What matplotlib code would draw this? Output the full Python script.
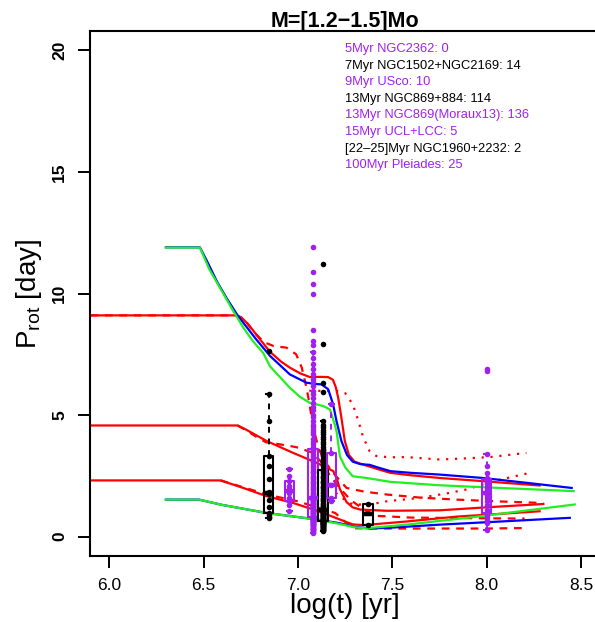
import numpy as np
import matplotlib
matplotlib.use('Agg')
import matplotlib.pyplot as plt

plt.rcParams['font.family'] = ['Liberation Sans', 'DejaVu Sans']
plt.rcParams['mathtext.fontset'] = 'custom'
plt.rcParams['mathtext.rm'] = 'Liberation Sans'
plt.rcParams['mathtext.it'] = 'Liberation Sans:italic'

RED, BLUE, GREEN = '#FF0000', '#0000FF', '#22EE22'
PURPLE = '#A020F0'

# ---- model tracks: log(t) and Prot [day] ----
red1_t = [5.9, 6.675, 6.70, 6.74, 6.80, 6.852, 6.91, 6.957, 7.01, 7.063, 7.12, 7.16, 7.185, 7.20, 7.213,
          7.23, 7.248, 7.27, 7.30, 7.35, 7.42, 7.49, 7.6, 7.75, 7.98, 8.28]
red1_p = [9.1, 9.1, 9.02, 8.7, 8.1, 7.6, 7.2, 6.95, 6.72, 6.56, 6.57, 6.56, 6.45, 6.15, 5.71,
          4.89, 3.93, 3.35, 3.08, 2.95, 2.78, 2.62, 2.52, 2.41, 2.28, 2.1]
red2_t = [5.9, 6.68, 6.72, 6.834, 6.975, 7.10, 7.16, 7.187, 7.205, 7.222, 7.257, 7.29, 7.33, 7.47, 7.75, 8.015, 8.30]
red2_p = [4.57, 4.57, 4.42, 3.93, 3.44, 3.03, 2.8, 2.69, 2.4, 1.95, 1.42, 1.2, 1.11, 1.06, 1.08, 1.21, 1.34]
red3_t = [5.9, 6.59, 6.71, 6.834, 6.975, 7.117, 7.222, 7.29, 7.35, 7.47, 7.575, 7.84, 8.28]
red3_p = [2.31, 2.31, 2.0, 1.66, 1.38, 1.02, 0.7, 0.5, 0.47, 0.55, 0.62, 0.82, 1.04]

dash1_t = [5.9, 6.675, 6.72, 6.76, 6.82, 6.87, 6.94, 6.99, 7.02, 7.045, 7.06, 7.08, 7.11, 7.15, 7.2,
           7.257, 7.35, 7.47, 7.65, 7.84, 8.05, 8.30]
dash1_p = [9.1, 9.1, 8.9, 8.46, 8.0, 7.84, 7.77, 7.5, 6.95, 6.12, 5.5, 4.5, 3.6, 3.0, 2.5,
           2.0, 1.85, 1.73, 1.6, 1.52, 1.45, 1.38]
dash2_t = [6.68, 6.73, 6.78, 6.83, 6.9, 6.99, 7.07, 7.12, 7.17, 7.22, 7.28, 7.35, 7.42, 7.6, 8.0, 8.2]
dash2_p = [4.57, 4.35, 4.1, 3.88, 3.8, 3.68, 3.47, 3.1, 2.5, 2.0, 1.5, 1.1, 0.85, 0.78, 0.75, 0.74]
dash3_t = [6.59, 6.7, 6.85, 7.0, 7.1, 7.197, 7.25, 7.3, 7.5, 8.0, 8.2]
dash3_p = [2.31, 2.05, 1.7, 1.45, 1.2, 0.97, 0.6, 0.34, 0.33, 0.33, 0.35]

dot1_t = [7.06, 7.15, 7.21, 7.25, 7.29, 7.31, 7.345, 7.38, 7.416, 7.49, 7.575, 7.75, 7.9, 8.015, 8.21]
dot1_p = [6.0, 5.99, 5.99, 5.9, 5.44, 5.0, 4.1, 3.5, 3.31, 3.26, 3.27, 3.17, 3.22, 3.27, 3.44]
dot2_t = [7.2, 7.25, 7.29, 7.38, 7.47, 7.645, 7.806, 7.894, 8.035, 8.228]
dot2_p = [1.8, 1.5, 1.32, 1.32, 1.45, 1.59, 1.80, 1.94, 2.28, 2.62]

blue1_t = [6.3, 6.48, 6.52, 6.57, 6.62, 6.68, 6.73, 6.78, 6.852, 6.957, 7.045, 7.09, 7.125, 7.16, 7.186,
           7.204, 7.23, 7.26, 7.29, 7.33, 7.38, 7.42, 7.49, 7.6, 7.75, 7.98, 8.2, 8.45]
blue1_p = [11.9, 11.9, 11.3, 10.5, 9.83, 9.1, 8.6, 8.1, 7.43, 6.67, 6.33, 6.28, 6.26, 6.06, 5.44,
           4.75, 3.93, 3.35, 3.08, 2.98, 2.95, 2.85, 2.69, 2.62, 2.55, 2.41, 2.22, 2.0]
blue2_t = [6.3, 6.475, 6.6, 6.834, 7.10, 7.22, 7.3, 7.38, 7.5, 7.75, 8.1, 8.44]
blue2_p = [1.52, 1.52, 1.3, 0.97, 0.70, 0.55, 0.4, 0.33, 0.37, 0.49, 0.63, 0.77]

green1_t = [6.3, 6.48, 6.53, 6.586, 6.657, 6.71, 6.76, 6.816, 6.852, 6.957, 7.01, 7.063, 7.134, 7.169,
            7.195, 7.205, 7.222, 7.25, 7.29, 7.363, 7.49, 7.75, 7.98, 8.46]
green1_p = [11.89, 11.89, 11.0, 10.24, 9.28, 8.6, 8.05, 7.55, 7.0, 6.12, 5.75, 5.5, 5.37, 5.23,
            4.61, 4.3, 3.3, 2.85, 2.48, 2.41, 2.25, 2.11, 2.03, 1.87]
green2_t = [6.3, 6.475, 6.6, 6.834, 7.10, 7.22, 7.3, 7.36, 7.575, 7.93, 8.466]
green2_p = [1.52, 1.52, 1.3, 0.97, 0.70, 0.52, 0.38, 0.34, 0.49, 0.80, 1.32]

# ---- observed clusters ----
ngc1502_p = [0.77, 0.8, 0.9, 0.97, 1.2, 1.5, 1.75, 1.85, 2.35, 2.9, 3.31, 4.75, 5.85, 7.63]
usco_p = [1.04, 1.3, 1.45, 1.6, 1.8, 1.95, 2.1, 2.28, 2.5, 2.8]
ngc869_p = [0.22, 0.25, 0.28, 0.3, 0.32, 0.34, 0.36, 0.38, 0.4, 0.42, 0.43, 0.45, 0.46, 0.48, 0.5, 0.51,
            0.52, 0.53, 0.55, 0.56, 0.57, 0.58, 0.59, 0.6, 0.61, 0.62, 0.63, 0.64,
            0.65, 0.66, 0.68, 0.7, 0.71, 0.72, 0.74, 0.75, 0.77, 0.78, 0.8, 0.82, 0.83, 0.85, 0.87,
            0.88, 0.9, 0.92, 0.93, 0.95, 0.97, 0.98, 1.0, 1.02, 1.03, 1.05, 1.07, 1.08, 1.1,
            1.12, 1.15, 1.18, 1.2, 1.25, 1.3, 1.35, 1.4, 1.45, 1.5, 1.55, 1.6, 1.65, 1.7, 1.8, 1.85,
            1.9, 2.0, 2.05, 2.1, 2.2, 2.25, 2.3, 2.4, 2.45, 2.5, 2.6, 2.69,
            2.75, 2.8, 2.9, 3.0, 3.05, 3.1, 3.2, 3.3, 3.35, 3.4, 3.45, 3.5, 3.55, 3.6, 3.7, 3.8, 3.9,
            4.0, 4.1, 4.2, 4.3, 4.4, 4.5, 4.6, 4.75, 5.96, 6.33, 7.91, 11.22]
moraux_p = [0.15, 0.2, 0.22, 0.25, 0.28, 0.3, 0.32, 0.35, 0.37, 0.4, 0.42, 0.44, 0.46, 0.48, 0.5, 0.52,
            0.53, 0.55, 0.57, 0.58, 0.6, 0.62, 0.63, 0.65, 0.66, 0.68, 0.7, 0.71, 0.72, 0.73, 0.74,
            0.75, 0.76, 0.77,
            0.8, 0.82, 0.85, 0.87, 0.9, 0.92, 0.95, 0.97, 1.0, 1.02, 1.05, 1.07, 1.1, 1.12, 1.15,
            1.17, 1.2, 1.22, 1.25, 1.27, 1.3, 1.32, 1.35, 1.37, 1.4, 1.42, 1.45, 1.47, 1.5, 1.52,
            1.54, 1.56, 1.58, 1.59,
            1.62, 1.65, 1.7, 1.75, 1.8, 1.85, 1.9, 1.95, 2.0, 2.05, 2.1, 2.15, 2.2, 2.25, 2.3, 2.35,
            2.4, 2.45, 2.5, 2.6, 2.65, 2.7, 2.8, 2.85, 2.9, 3.0, 3.05, 3.1, 3.2, 3.25, 3.3, 3.4, 3.5, 3.58,
            3.65, 3.7, 3.8, 3.9, 4.0, 4.2, 4.3, 4.4, 4.5, 4.6, 4.75, 4.9, 5.0, 5.2, 5.35, 5.5, 5.7,
            5.85, 6.0, 6.2, 6.35, 6.5, 6.7, 6.9, 7.1, 7.35, 7.6, 7.9, 8.05, 8.5, 10.0, 10.4, 10.9, 11.9]
ucl_p = [1.45, 1.59, 2.14, 3.44, 5.44]
ngc1960_p = [0.49, 1.34]
pleiades_p = [0.29, 0.55, 0.7, 0.8, 0.9, 0.95, 0.97, 1.1, 1.3, 1.45, 1.6, 1.7, 1.8, 1.85, 1.95, 2.05,
              2.15, 2.25, 2.37, 2.4, 2.6, 2.9, 3.38, 6.8, 6.9]

clusters = [
    (6.845, ngc1502_p, 'black'),
    (6.954, usco_p, PURPLE),
    (7.08, moraux_p, PURPLE),
    (7.133, ngc869_p, 'black'),
    (7.176, ucl_p, PURPLE),
    (7.371, ngc1960_p, 'black'),
    (8.0, pleiades_p, PURPLE),
]

legend_txt = ['5Myr NGC2362: 0', '7Myr NGC1502+NGC2169: 14', '9Myr USco: 10', '13Myr NGC869+884: 114',
              '13Myr NGC869(Moraux13): 136', '15Myr UCL+LCC: 5', '[22\u201325]Myr NGC1960+2232: 2',
              '100Myr Pleiades: 25']
legend_col = [PURPLE, 'black', PURPLE, 'black', PURPLE, PURPLE, 'black', PURPLE]


def fivenum(v):
    # same hinges as R's boxplot
    v = np.sort(np.asarray(v, float))
    n = len(v)
    n4 = np.floor((n + 3) / 2.) / 2.
    d = np.array([1, n4, (n + 1) / 2., n + 1 - n4, n]) - 1
    return 0.5 * (v[np.floor(d).astype(int)] + v[np.ceil(d).astype(int)])


def box_stats(v):
    v = np.asarray(v, float)
    mn, q1, med, q3, mx = fivenum(v)
    iqr = q3 - q1
    lo = v[v >= q1 - 1.5 * iqr].min()
    hi = v[v <= q3 + 1.5 * iqr].max()
    return dict(med=med, q1=q1, q3=q3, whislo=lo, whishi=hi, fliers=[])


fig = plt.figure(figsize=(5.95, 6.22), dpi=100)
ax = fig.add_axes([90 / 595., 66 / 622., 510 / 595., 525 / 622.])

lw = 1.6
ax.plot(red1_t, red1_p, color=RED, lw=lw)
ax.plot(red2_t, red2_p, color=RED, lw=lw)
ax.plot(red3_t, red3_p, color=RED, lw=lw)
for t, p in [(dash1_t, dash1_p), (dash2_t, dash2_p), (dash3_t, dash3_p)]:
    ax.plot(t, p, color=RED, lw=lw, linestyle=(0, (3.5, 3)))
for t, p in [(dot1_t, dot1_p), (dot2_t, dot2_p)]:
    ax.plot(t, p, color=RED, lw=lw, linestyle=(0, (1, 3)))
ax.plot(blue1_t, blue1_p, color=BLUE, lw=lw)
ax.plot(blue2_t, blue2_p, color=BLUE, lw=lw)
ax.plot(green1_t, green1_p, color=GREEN, lw=lw)
ax.plot(green2_t, green2_p, color=GREEN, lw=lw)

for x, vals, c in clusters:
    ax.bxp([box_stats(vals)], positions=[x], widths=0.05, capwidths=0.025, showfliers=False,
           manage_ticks=False,
           boxprops=dict(color=c, lw=1.5), medianprops=dict(color=c, lw=3.2),
           whiskerprops=dict(color=c, lw=1.4, linestyle=(0, (3, 3))),
           capprops=dict(color=c, lw=1.5))
    ax.plot([x] * len(vals), vals, 'o', ms=4, color=c, mec='none')

ax.set_xlim(5.898, 8.6)
ax.set_ylim(-0.8, 20.8)
ax.set_xticks([6.0, 6.5, 7.0, 7.5, 8.0, 8.5])
ax.set_xticklabels(['6.0', '6.5', '7.0', '7.5', '8.0', '8.5'], fontsize=12.5)
ax.set_yticks([0, 5, 10, 15, 20])
ax.set_yticklabels(['0', '5', '10', '15', '20'], fontsize=12.5, rotation=90, va='center',
                   fontweight='bold')
ax.tick_params(axis='both', length=8.5, width=1.4, color='black')
ax.tick_params(axis='x', pad=7)
ax.tick_params(axis='y', pad=8)
for s in ['left', 'top', 'bottom']:
    ax.spines[s].set_linewidth(1.5)
ax.spines['right'].set_visible(False)

ax.set_xlabel('log(t) [yr]', fontsize=20, labelpad=0)
ax.set_ylabel(r'$\mathregular{P_{rot}}$ [day]', fontsize=20, labelpad=6)
fig.text(345 / 595., 1 - 22 / 622., 'M=[1.2\u22121.5]Mo', ha='center', va='center',
         fontsize=15.5, fontweight='bold')

for i, (txt, c) in enumerate(zip(legend_txt, legend_col)):
    fig.text(345 / 595., 1 - (49 + 16.6 * i) / 622., txt, color=c, fontsize=9.3,
             ha='left', va='center')

fig.savefig('out.png', dpi=100)
